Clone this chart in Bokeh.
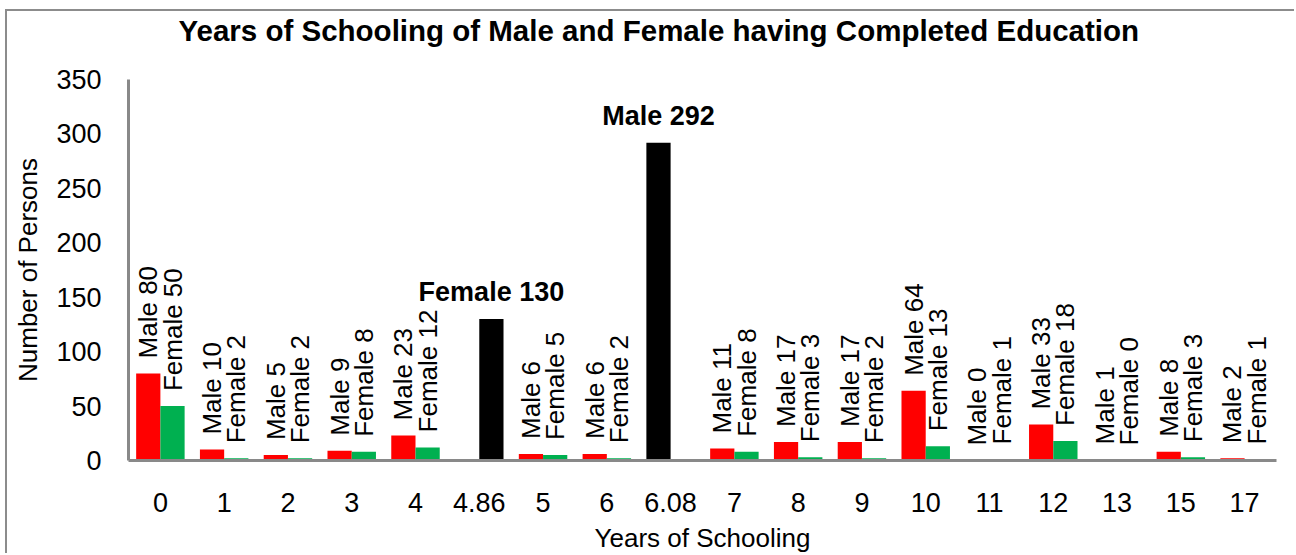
import math
from bokeh.plotting import figure
from bokeh.models import ColumnDataSource, FactorRange, Range1d, SingleIntervalTicker
from bokeh.transform import dodge
from bokeh.core.properties import value
from bokeh.embed import file_html
from bokeh.resources import INLINE

# ---- data ----
categories = ["0", "1", "2", "3", "4", "4.86", "5", "6", "6.08", "7", "8", "9",
              "10", "11", "12", "13", "15", "17"]
male = [80, 10, 5, 9, 23, None, 6, 6, 292, 11, 17, 17, 64, 0, 33, 1, 8, 2]
female = [50, 2, 2, 8, 12, 130, 5, 2, None, 8, 3, 2, 13, 1, 18, 0, 3, 1]
highlight_male = ["6.08"]      # drawn black, labelled in bold
highlight_female = ["4.86"]

FONT = "Liberation Sans"
RED = "#FF0000"
GREEN = "#00B050"
BLACK = "#000000"
AXIS = "#898989"
OFF = 0.19
BW = 0.38

p = figure(x_range=FactorRange(*categories, range_padding=0), y_range=Range1d(0, 350),
           width=1289, height=544, output_backend="svg", toolbar_location=None,
           min_border_left=121, min_border_right=20, min_border_top=65, min_border_bottom=94)
# outer chart frame (left/top visible, the rest runs off the picture)
p.styles = {"margin-left": "5px", "margin-top": "9px",
            "border-left": "2px solid #8c8c8c", "border-top": "2px solid #8c8c8c"}

def nz(v):
    return float("nan") if v is None else v

m_src = ColumnDataSource(dict(
    cat=categories, val=[nz(v) for v in male],
    color=[BLACK if c in highlight_male else RED for c in categories]))
f_src = ColumnDataSource(dict(
    cat=categories, val=[nz(v) for v in female],
    color=[BLACK if c in highlight_female else GREEN for c in categories]))

p.vbar(x=dodge("cat", -OFF, range=p.x_range), top="val", width=BW, source=m_src,
       fill_color="color", line_color=None)
p.vbar(x=dodge("cat", OFF, range=p.x_range), top="val", width=BW, source=f_src,
       fill_color="color", line_color=None)

# rotated labels
def label_src(vals, name, hl):
    cats, ys, txt = [], [], []
    for c, v in zip(categories, vals):
        if v is None or c in hl:
            continue
        cats.append(c); ys.append(v); txt.append(f"{name} {v}")
    return ColumnDataSource(dict(cat=cats, y=ys, t=txt))

for vals, name, hl, off in [(male, "Male", highlight_male, -OFF),
                            (female, "Female", highlight_female, OFF)]:
    p.text(x=dodge("cat", off, range=p.x_range), y="y", text="t", source=label_src(vals, name, hl),
           angle=math.pi / 2, text_align="left", text_baseline="middle", y_offset=-15,
           text_font=value(FONT), text_font_size="26px", text_color="#000000")

# bold highlight labels
def hl_src(vals, name, hl):
    cats, ys, txt = [], [], []
    for c, v in zip(categories, vals):
        if c in hl and v is not None:
            cats.append(c); ys.append(v); txt.append(f"{name} {v}")
    return ColumnDataSource(dict(cat=cats, y=ys, t=txt))

for vals, name, hl, off in [(male, "Male", highlight_male, -OFF),
                            (female, "Female", highlight_female, OFF)]:
    p.text(x=dodge("cat", off, range=p.x_range), y="y", text="t", source=hl_src(vals, name, hl),
           text_align="center", text_baseline="alphabetic", y_offset=-27,
           text_font=value(FONT), text_font_size="27px", text_font_style="bold",
           text_color="#000000")

# title (a blank second line lifts it away from the plot area)
p.title.text = "Years of Schooling of Male and Female having Completed Education\n "
p.title.align = "left"
p.title.offset = 50
p.title.vertical_align = "bottom"
p.title.standoff = 0
p.title.text_line_height = 1.0
p.title.text_font = FONT
p.title.text_font_size = "29.5px"
p.title.text_font_style = "bold"
p.title.text_color = "#000000"

# axes
for ax in (p.xaxis[0], p.yaxis[0]):
    ax.axis_line_color = AXIS
    ax.axis_line_width = 3
    ax.major_tick_line_color = None
    ax.minor_tick_line_color = None
    ax.major_label_text_font = FONT
    ax.major_label_text_font_size = "27px"
    ax.major_label_text_color = "#000000"
    ax.axis_label_text_font = FONT
    ax.axis_label_text_font_size = "26px"
    ax.axis_label_text_font_style = "normal"
    ax.axis_label_text_color = "#000000"

p.yaxis.ticker = SingleIntervalTicker(interval=50)
p.xaxis.axis_label = "Years of Schooling"
p.yaxis.axis_label = "Number of Persons"
p.xaxis.major_label_standoff = 26
p.xaxis.axis_label_standoff = 8
p.yaxis.major_label_standoff = 21
p.yaxis.axis_label_standoff = 10

p.xgrid.grid_line_color = None
p.ygrid.grid_line_color = None
p.outline_line_color = None
p.background_fill_color = "#FFFFFF"
p.border_fill_color = "#FFFFFF"

open("out.html", "w").write(file_html(p, INLINE))
